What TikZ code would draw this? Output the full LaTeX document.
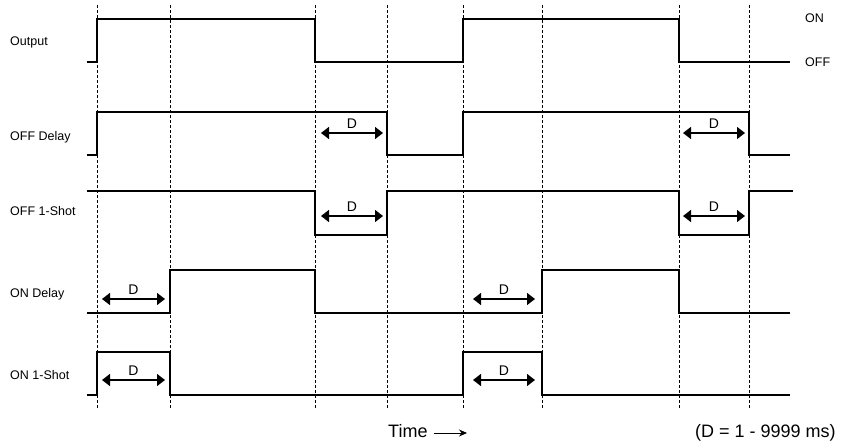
\documentclass[tikz,border=0pt]{standalone}
\usepackage{fontspec}
\setmainfont{Liberation Sans}
\usetikzlibrary{arrows.meta}
\begin{document}
\begin{tikzpicture}[
  x=1pt, y=-1pt,
  signal/.style={line width=1.4pt, line join=miter},
  guide/.style={densely dashed, line width=0.8pt},
  span/.style={{Triangle[length=8pt,width=12pt]}-{Triangle[length=8pt,width=12pt]}, line width=1.4pt},
  dlabel/.style={above=4pt, inner sep=0pt, font=\fontsize{14}{16}\selectfont},
  lbl/.style={anchor=base west, inner sep=0pt, font=\fontsize{12.5}{14}\selectfont},
  big/.style={anchor=base west, inner sep=0pt, font=\fontsize{18}{20}\selectfont}]
  \useasboundingbox (0,0) rectangle (856,447);
  % time markers
  \foreach \t in {97,170,315,387,463,542,679,749}
    \draw[guide] (\t,5) -- (\t,408);
  % signals
  \draw[signal] (87,62) -| (97,19) -| (315,62) -| (463,19) -| (679,62) -- (790,62);
  \draw[signal] (87,155) -| (97,112) -| (387,155) -| (463,112) -| (749,155) -- (790,155);
  \draw[signal] (87,191) -| (315,235) -| (387,191) -| (679,235) -| (749,191) -- (793,191);
  \draw[signal] (87,313) -| (170,270) -| (315,313) -| (542,270) -| (679,313) -- (790,313);
  \draw[signal] (87,395) -| (97,352) -| (170,395) -| (463,352) -| (542,395) -- (790,395);
  % delay spans
  \foreach \a/\b/\y [count=\i] in {321/383/133, 683/745/133, 321/383/216, 683/745/216,
                                   102/165/299, 473/535/299, 102/165/380, 473/535/380}
    \draw[span] (\a,\y) -- node[dlabel] (d\i) {D} (\b,\y);
  % labels
  \node[lbl] (output)   at (10,45)  {Output};
  \node[lbl] (offdelay) at (10,140) {OFF Delay};
  \node[lbl] (offshot)  at (10,215) {OFF 1-Shot};
  \node[lbl] (ondelay)  at (10,297) {ON Delay};
  \node[lbl] (onshot)   at (10,379) {ON 1-Shot};
  \node[lbl] (on)       at (805,22) {ON};
  \node[lbl] (off)      at (805,66) {OFF};
  \node[big] (time)     at (388,437) {Time};
  \coordinate (tend) at (467,433);
  \draw[-{Stealth[length=8pt,width=7pt]}, line width=0.9pt] (time.east |- tend) ++(6,0) -- (tend);
  \node[big] (range)    at (695,437) {(D = 1 - 9999 ms)};
\end{tikzpicture}
\end{document}
